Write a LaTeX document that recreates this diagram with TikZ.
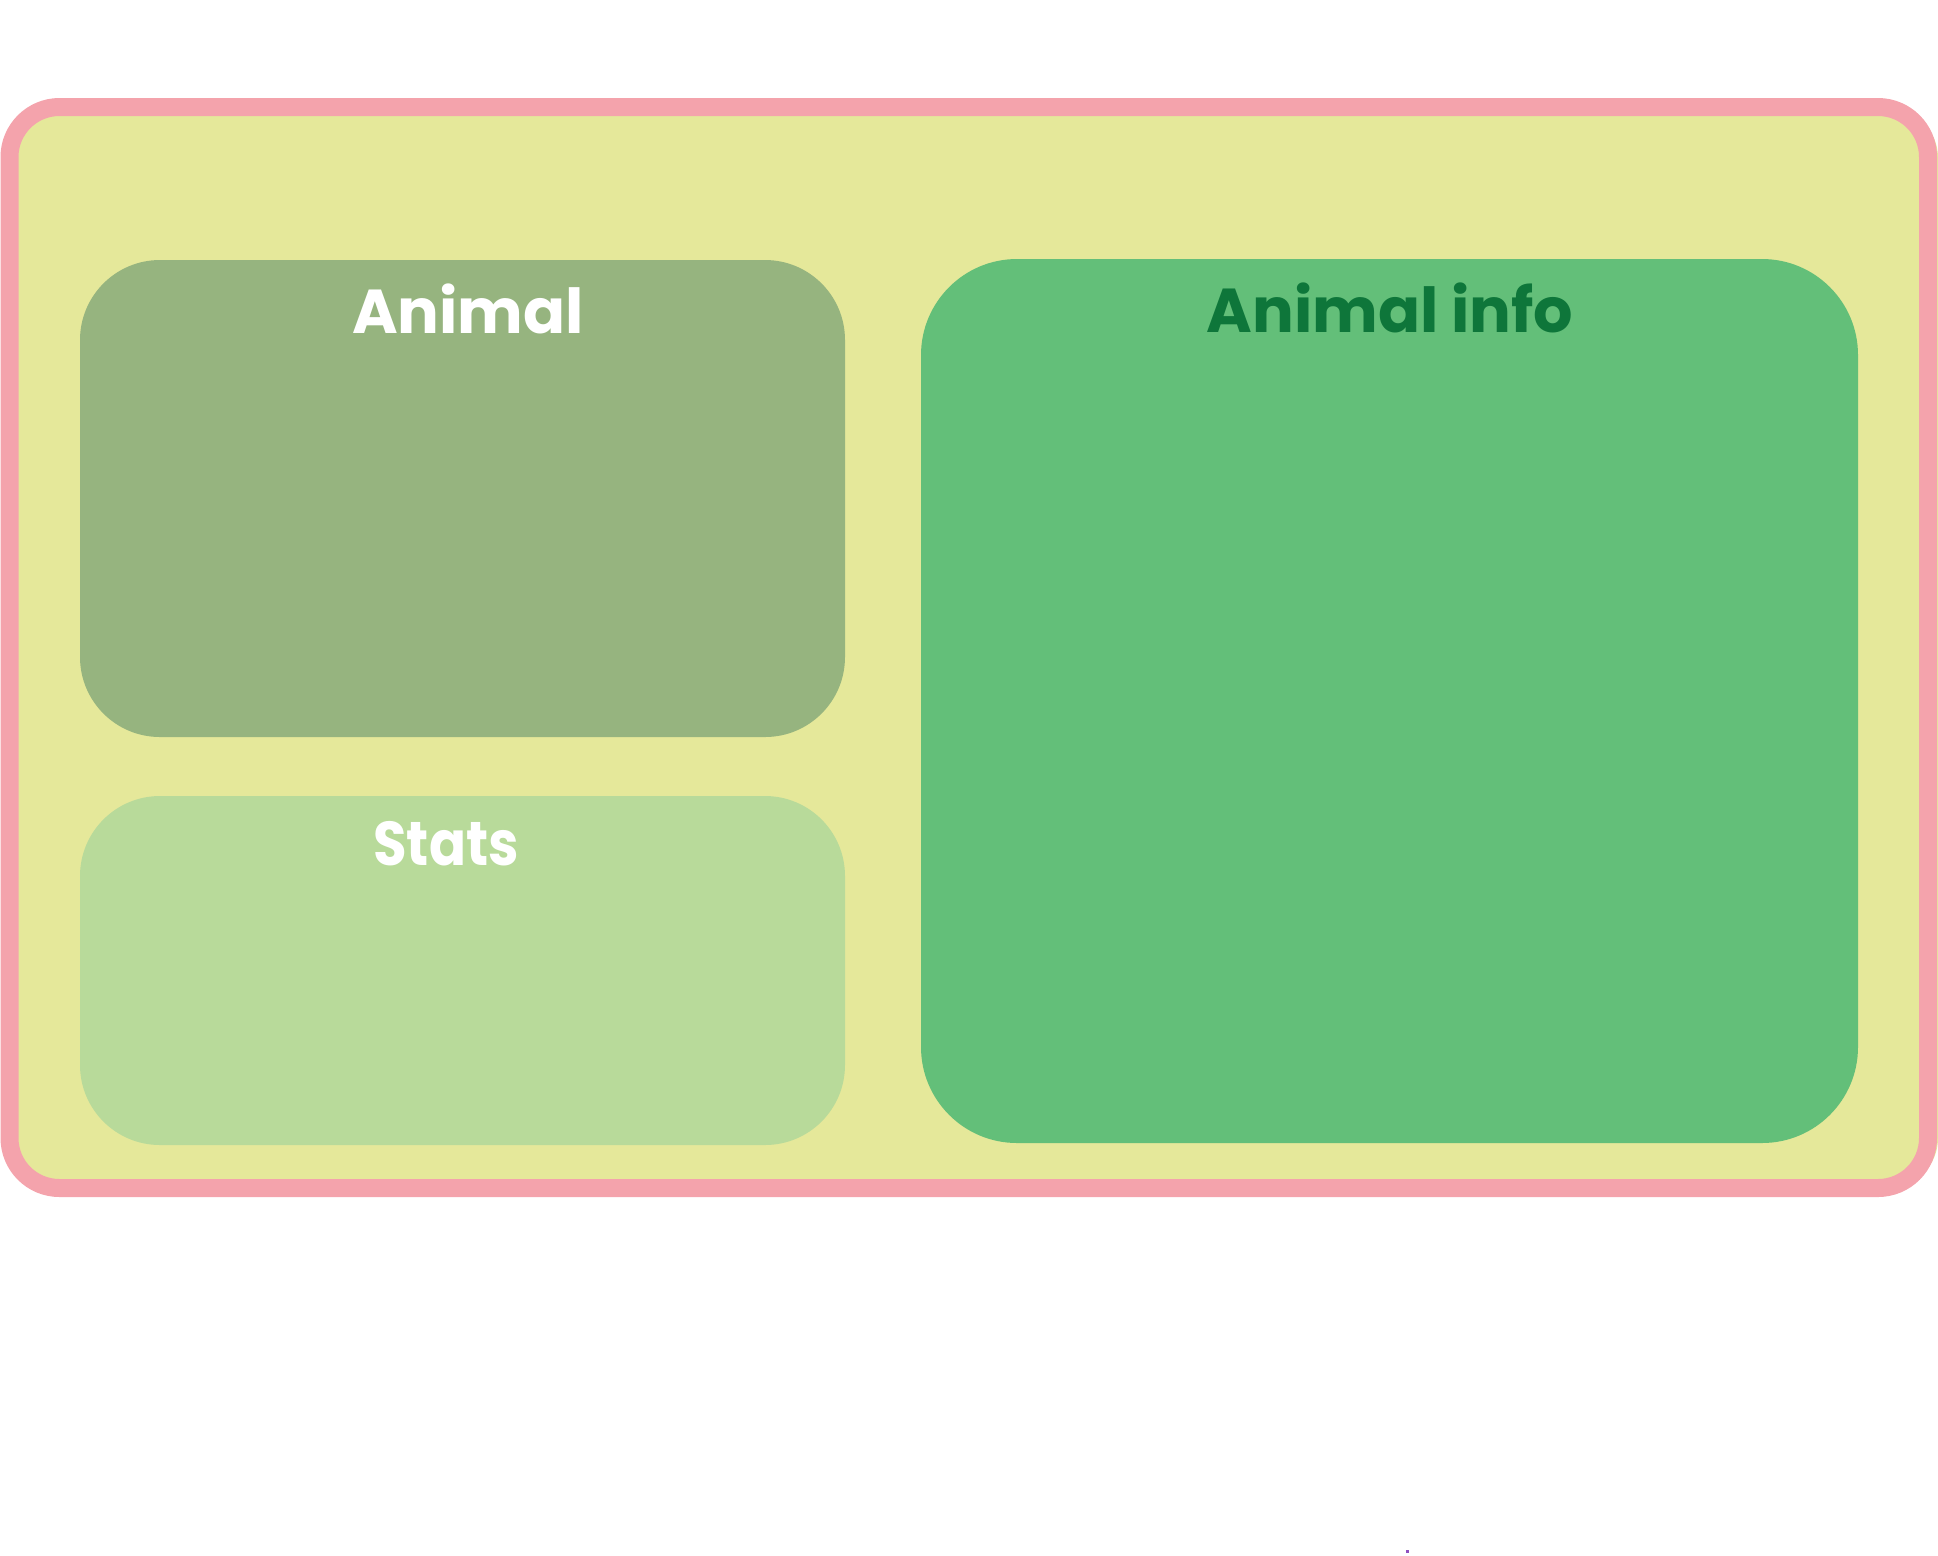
\documentclass[tikz,border=0pt]{standalone}
\usepackage{fontspec}
\setmainfont{Poppins}[BoldFont={* Bold}]
\definecolor{outerfill}{HTML}{E5E89A}
\definecolor{outerline}{HTML}{F4A3AC}
\definecolor{animalfill}{HTML}{96B47F}
\definecolor{statsfill}{HTML}{B8DA9A}
\definecolor{infofill}{HTML}{63BF79}
\definecolor{infotext}{HTML}{0E763A}
\definecolor{dotcol}{HTML}{8E4FC0}
\tikzset{
  panel/.style={draw=none, rounded corners=#1},
  title/.style={font=\bfseries\fontsize{31}{36}\selectfont, inner sep=0pt, anchor=center}
}
\begin{document}
\begin{tikzpicture}[x=0.5pt,y=-0.5pt]
\useasboundingbox (0,0) rectangle (1938,1555);
% outer container
\fill[outerfill, rounded corners=25pt] (12,108) rectangle (1938,1188);
\draw[outerline, line width=9pt, rounded corners=25pt] (9.5,107) rectangle (1928,1188);
% panels
\fill[animalfill, panel=40pt] (80,260) rectangle (845,737);
\fill[statsfill, panel=40pt] (80,796) rectangle (845,1145);
\fill[infofill, panel=48pt] (921,259) rectangle (1858,1143);
% titles
\node[title, text=white] (animal) at (468,309) {Animal};
\node[title, text=white, xscale=0.88] (stats) at (446,844) {Stats};
\node[title, text=infotext] (info) at (1390,308) {Animal info};
% stray dot
\fill[dotcol] (1406,1550) rectangle (1409,1553);
\end{tikzpicture}
\end{document}
